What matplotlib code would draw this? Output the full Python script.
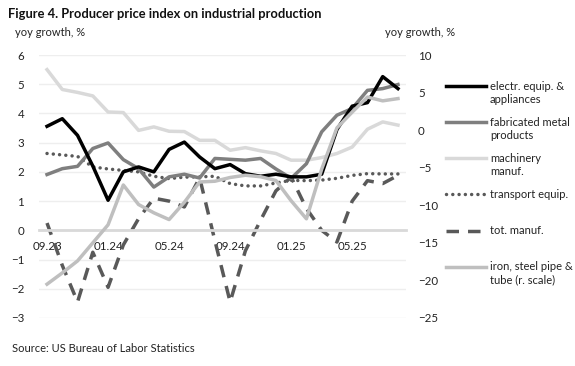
import numpy as np
import matplotlib.pyplot as plt
from matplotlib.lines import Line2D

plt.rcParams['font.family'] = ['Lato', 'DejaVu Sans']

# monthly data, 09.23 - 08.25 (yoy growth, %)
months = ['09.23', '10.23', '11.23', '12.23', '01.24', '02.24', '03.24', '04.24',
          '05.24', '06.24', '07.24', '08.24', '09.24', '10.24', '11.24', '12.24',
          '01.25', '02.25', '03.25', '04.25', '05.25', '06.25', '07.25', '08.25']
electr = [3.56, 3.82, 3.25, 2.2, 1.03, 2.0, 2.17, 2.0, 2.77, 3.02, 2.51, 2.11,
          2.25, 1.94, 1.85, 1.92, 1.83, 1.83, 1.92, 3.45, 4.25, 4.37, 5.26, 4.85]
fabricated = [1.91, 2.11, 2.19, 2.8, 2.99, 2.42, 2.11, 1.48, 1.83, 1.92, 1.79, 2.46,
              2.43, 2.4, 2.46, 2.1, 1.78, 2.28, 3.37, 3.94, 4.17, 4.79, 4.85, 4.99]
machinery = [5.5, 4.82, 4.72, 4.6, 4.05, 4.03, 3.42, 3.54, 3.39, 3.38, 3.08, 3.08,
             2.74, 2.83, 2.72, 2.63, 2.4, 2.4, 2.49, 2.63, 2.85, 3.46, 3.71, 3.6]
transport = [2.63, 2.58, 2.53, 2.17, 2.1, 2.05, 2.0, 1.85, 1.77, 1.82, 1.83, 1.85,
             1.6, 1.52, 1.52, 1.62, 1.71, 1.7, 1.72, 1.78, 1.88, 1.94, 1.93, 1.93]
tot_manuf = [0.25, -1.2, -2.45, -0.75, -1.95, -0.5, 0.4, 1.1, 1.0, 0.8, 1.8, -0.35,
             -2.45, -0.7, 0.35, 1.35, 1.82, 0.75, 0.0, -0.4, 1.0, 1.7, 1.6, 1.88]
# right scale
iron_steel = [-20.5, -19.0, -17.4, -15.0, -12.6, -7.3, -9.9, -11.0, -11.9, -9.6, -6.9, -6.8,
              -6.3, -6.0, -6.2, -6.7, -9.4, -11.8, -5.2, 0.3, 2.4, 4.4, 3.9, 4.2]

labels = ['electr. equip. &\nappliances', 'fabricated metal\nproducts', 'machinery\nmanuf.',
          'transport equip.', 'tot. manuf.', 'iron, steel pipe &\ntube (r. scale)']

x = np.arange(len(months))
lw = 2.5

fig = plt.figure(figsize=(5.75, 3.66), dpi=100)
ax = fig.add_axes([39.4 / 575, 1 - 318 / 366, (405.6 - 39.4) / 575, (318 - 55) / 366])

styles = [
    dict(color='black', lw=lw),
    dict(color='#7f7f7f', lw=lw),
    dict(color='#d9d9d9', lw=lw),
    dict(color='#595959', lw=lw, dashes=(0.01, 1.8), dash_capstyle='round'),
    dict(color='#595959', lw=lw, dashes=(3.6, 2.6)),
    dict(color='#bfbfbf', lw=lw),
]

ax.plot(x, machinery, **styles[2])
ax.plot(x, transport, **styles[3])
ax.plot(x, tot_manuf, **styles[4])
ax.plot(x, fabricated, **styles[1])
ax.plot(x, electr, **styles[0])

ax.set_xlim(-0.5, len(months) - 0.5)
ax.set_ylim(-3, 6)
ax.set_yticks(range(-3, 7))
ax.yaxis.grid(True, color='#eeeeee', lw=1)
ax.set_axisbelow(True)
for s in ['top', 'right', 'left']:
    ax.spines[s].set_visible(False)
ax.spines['bottom'].set_position(('data', 0))
ax.spines['bottom'].set_color('#d9d9d9')
ax.spines['bottom'].set_linewidth(2)
ax.set_xticks(x[::4])
ax.set_xticklabels(months[::4])
ax.tick_params(axis='x', length=0, pad=8, labelsize=8.3, colors='#222222')
ax.tick_params(axis='y', length=0, pad=11, labelsize=8.3, colors='#222222')

ax2 = ax.twinx()
ax2.plot(x, iron_steel, **styles[5])
ax2.set_ylim(-25, 10)
ax2.set_yticks(range(-25, 11, 5))
ax2.tick_params(axis='y', length=0, pad=9, labelsize=8.3, colors='#222222')
for s in ax2.spines.values():
    s.set_visible(False)

# text
fig.text(8 / 575, 1 - 14 / 366, 'Figure 4. Producer price index on industrial production',
         fontsize=9.3, fontweight='bold', va='center', ha='left', color='#111111')
fig.text(15 / 575, 1 - 33 / 366, 'yoy growth, %', fontsize=8, va='center', ha='left', color='#222222')
fig.text(385 / 575, 1 - 33 / 366, 'yoy growth, %', fontsize=8, va='center', ha='left', color='#222222')
fig.text(12 / 575, 1 - 349 / 366, 'Source: US Bureau of Labor Statistics', fontsize=8,
         va='center', ha='left', color='#222222')

# legend drawn by hand so the first text line sits on the sample line
leg_y = [86, 122, 158, 194, 231, 267]
for st, lab, yy in zip(styles, labels, leg_y):
    yf = 1 - yy / 366
    fig.add_artist(Line2D([446 / 575, 486 / 575], [yf, yf], **st))
    fig.text(490 / 575, yf + 5.5 / 366, lab, fontsize=8, va='top', ha='left',
             color='#222222', linespacing=1.25)

fig.savefig('out.png', dpi=100)
